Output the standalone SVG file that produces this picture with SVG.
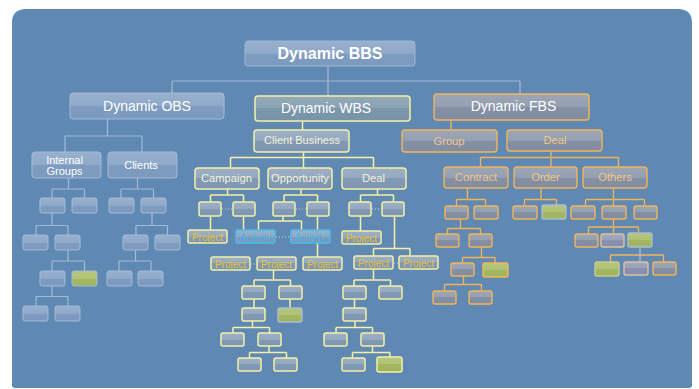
<svg xmlns="http://www.w3.org/2000/svg" width="699" height="389" viewBox="0 0 699 389">
<defs>
<linearGradient id="gObs" x1="0" y1="0" x2="0" y2="1">
<stop offset="0" stop-color="#98b0cd"/><stop offset="0.5" stop-color="#8fa9ca"/><stop offset="0.5" stop-color="#7f9cc0"/><stop offset="1" stop-color="#7c99be"/>
</linearGradient>
<linearGradient id="gWbsTop" x1="0" y1="0" x2="0" y2="1">
<stop offset="0" stop-color="#92a9b7"/><stop offset="0.5" stop-color="#8aa2b3"/><stop offset="0.5" stop-color="#7b97aa"/><stop offset="1" stop-color="#7893a8"/>
</linearGradient>
<linearGradient id="gWbs" x1="0" y1="0" x2="0" y2="1">
<stop offset="0" stop-color="#9cafc5"/><stop offset="0.5" stop-color="#94a9c1"/><stop offset="0.5" stop-color="#8299b4"/><stop offset="1" stop-color="#7e96b2"/>
</linearGradient>
<linearGradient id="gFbs" x1="0" y1="0" x2="0" y2="1">
<stop offset="0" stop-color="#9ca6b6"/><stop offset="0.5" stop-color="#949fb1"/><stop offset="0.5" stop-color="#8590a4"/><stop offset="1" stop-color="#818ca1"/>
</linearGradient>
<linearGradient id="gGreen" x1="0" y1="0" x2="0" y2="1">
<stop offset="0" stop-color="#b6c67c"/><stop offset="0.5" stop-color="#b0c274"/><stop offset="0.5" stop-color="#a3b762"/><stop offset="1" stop-color="#a0b45e"/>
</linearGradient>
<linearGradient id="gLav" x1="0" y1="0" x2="0" y2="1">
<stop offset="0" stop-color="#a4a8c0"/><stop offset="0.5" stop-color="#9a9fbb"/><stop offset="0.5" stop-color="#8a90b2"/><stop offset="1" stop-color="#878daf"/>
</linearGradient>
<filter id="blur" x="-20%" y="-30%" width="140%" height="160%"><feGaussianBlur stdDeviation="0.7"/></filter>
<style>
.obs{fill:url(#gObs);stroke:#a2bad8;stroke-width:1}
.wbs{fill:url(#gWbs);stroke:#f4f0a8;stroke-width:1.5}
.wbsTop{fill:url(#gWbsTop);stroke:#f4f0a8;stroke-width:1.5}
.act{fill:url(#gWbs);stroke:#46bff2;stroke-width:1.5}
.fbs{fill:url(#gFbs);stroke:#f2b45a;stroke-width:1.4}
.grn{fill:url(#gGreen)}
.lav{fill:url(#gLav);stroke:#dcc39c;stroke-width:1.4}
.bl{filter:url(#blur)}
.cObs{fill:none;stroke:#a2bad8;stroke-width:1.2}
.cWbs{fill:none;stroke:#f4f0a8;stroke-width:1.5}
.cFbs{fill:none;stroke:#f2b45a;stroke-width:1.3}
.dot{fill:none;stroke:#c8d4e0;stroke-width:1;stroke-dasharray:1 2}
text{font-family:"Liberation Sans",Arial,sans-serif;text-anchor:middle}
.tW{fill:#ffffff}
.tC{fill:#f6f3d6}
.tP{fill:#e9c232;font-size:10px}
.tA{fill:#44b6ec;font-size:10px}
.tO{fill:#f2c688}
</style>
</defs>
<path d="M26 9 H678 Q692 9 692 23 V385 Q692 388 689 388 H15 Q12 388 12 385 V23 Q12 9 26 9 Z" fill="#5f89b2"/>
<g id="connectors">
<path class="cObs" d="M328 66 V81 M172 81 H520 M172 81 V93 M328 81 V96 M520 81 V94"/>
<path class="cObs" d="M107.5 119 V136 M65 136 H142 M65 136 V152 M142 136 V152"/>
<path class="cObs" d="M68.5 178 V189 M52 189 H84.5 M52 189 V198 M84.5 189 V198"/>
<path class="cObs" d="M137.5 178 V189 M121 189 H153.5 M121 189 V198 M153.5 189 V198"/>
<path class="cObs" d="M52 213 V225.5 M36 225.5 H68 M36 225.5 V235 M68 225.5 V235"/>
<path class="cObs" d="M152 213 V225.5 M136 225.5 H167.5 M136 225.5 V235 M167.5 225.5 V235"/>
<path class="cObs" d="M68 250 V261 M52 261 H84.5 M52 261 V271 M84.5 261 V271"/>
<path class="cObs" d="M135.5 250 V261 M119 261 H151 M119 261 V271 M151 261 V271"/>
<path class="cObs" d="M52 286 V296.5 M36 296.5 H68 M36 296.5 V306 M68 296.5 V306"/>
<path class="cWbs" d="M302.5 121 V130"/>
<path class="cWbs" d="M303.5 152 V157.5 M230.5 157.5 H373.5 M230.5 157.5 V168 M303.5 157.5 V168 M373.5 157.5 V168"/>
<path class="cWbs" d="M227.5 189 V195 M210.5 195 H243.5 M210.5 195 V202 M243.5 195 V202"/>
<path class="cWbs" d="M301 189 V195 M284 195 H317.5 M284 195 V202 M317.5 195 V202"/>
<path class="cWbs" d="M377.5 189 V195 M360.5 195 H393.5 M360.5 195 V202 M393.5 195 V202"/>
<path class="cWbs" d="M210.5 216 V230 M243.5 216 V230"/>
<path class="cWbs" d="M283 216 V221 M258.5 221 H301.5 M258.5 221 V230 M301.5 221 V230"/>
<path class="cWbs" d="M317.5 216 V230 M317.5 243 V257"/>
<path class="cWbs" d="M360.5 216 V231"/>
<path class="cWbs" d="M394.5 216 V248.5 M373.5 248.5 H410 M373.5 248.5 V256 M410 248.5 V256"/>
<path class="cWbs" d="M273.5 270 V280 M254 280 H290.5 M254 280 V286 M290.5 280 V286"/>
<path class="cWbs" d="M254 299 V308 M290 299 V308"/>
<path class="cWbs" d="M252.5 321 V327.5 M233 327.5 H269.5 M233 327.5 V333 M269.5 327.5 V333"/>
<path class="cWbs" d="M269 346 V352.5 M249.5 352.5 H286.5 M249.5 352.5 V358 M286.5 352.5 V358"/>
<path class="cWbs" d="M373.5 269 V280 M354 280 H390.5 M354 280 V286 M390.5 280 V286"/>
<path class="cWbs" d="M354.5 299 V308"/>
<path class="cWbs" d="M355 321 V327.5 M336 327.5 H372.5 M336 327.5 V333 M372.5 327.5 V333"/>
<path class="cWbs" d="M372.5 346 V352.5 M352.5 352.5 H390 M352.5 352.5 V358 M390 352.5 V357"/>
<path class="dot" d="M222 209 H233 M296 209 H307 M372 209 H382 M276 237 H291 M251 264 H257 M394 263 H399"/>
<path class="cFbs" d="M451 120 V130"/>
<path class="cFbs" d="M551 151 V157.5 M480.5 157.5 H618.5 M480.5 157.5 V167 M551 157.5 V167 M618.5 157.5 V167"/>
<path class="cFbs" d="M467.5 188 V199.5 M456.5 199.5 H485.5 M456.5 199.5 V206 M485.5 199.5 V206"/>
<path class="cFbs" d="M541 188 V199.5 M524.5 199.5 H556.5 M524.5 199.5 V206 M556.5 199.5 V205"/>
<path class="cFbs" d="M613.5 188 V199.5 M585.5 199.5 H644.5 M585.5 199.5 V206 M613.5 199.5 V206 M644.5 199.5 V206"/>
<path class="cFbs" d="M460.5 219 V228.5 M447.5 228.5 H480.5 M447.5 228.5 V234 M480.5 228.5 V234"/>
<path class="cFbs" d="M481.5 247 V257.5 M462.5 257.5 H495 M462.5 257.5 V263 M495 257.5 V263"/>
<path class="cFbs" d="M463.5 276 V284.5 M444.5 284.5 H481.5 M444.5 284.5 V291 M481.5 284.5 V291"/>
<path class="cFbs" d="M613.5 219 V227 M588.5 227 H638.5 M588.5 227 V234 M613.5 227 V234 M638.5 227 V233"/>
<path class="cFbs" d="M610.5 255 H663.5 M610.5 255 V262 M663.5 255 V262"/>
<path fill="none" stroke="#b4c2d4" stroke-width="1.2" d="M640 247 V262"/>
</g>
<g id="bbs"><rect x="245" y="41" width="170" height="25" rx="3" fill="url(#gObs)" stroke="#9cb6d8"/><text x="330" y="59" class="tW" font-size="16" font-weight="bold">Dynamic BBS</text></g>
<g id="obs"><rect class="obs" x="70" y="93" width="154" height="26" rx="3"/><text x="147" y="111" class="tW" font-size="14">Dynamic OBS</text></g>
<g id="wbs"><rect class="wbsTop" x="255" y="96" width="155" height="25" rx="3"/><text x="326" y="113" class="tW" font-size="14">Dynamic WBS</text></g>
<g id="fbs"><rect class="fbs" x="434" y="94" width="155" height="26" rx="3"/><text x="513.5" y="111" class="tW" font-size="14">Dynamic FBS</text></g>
<g id="internal-groups"><rect class="obs" x="32" y="152" width="69" height="26" rx="3"/><text x="64.5" y="163.5" class="tW" font-size="11">Internal</text><text x="64.5" y="174.5" class="tW" font-size="11">Groups</text></g>
<g id="clients"><rect class="obs" x="108" y="152" width="69" height="26" rx="3"/><text x="141" y="169" class="tW" font-size="11">Clients</text></g>
<g id="obs-leaves">
<rect class="obs" x="40" y="198" width="25" height="15" rx="2"/>
<rect class="obs" x="72" y="198" width="25" height="15" rx="2"/>
<rect class="obs" x="109" y="198" width="25" height="15" rx="2"/>
<rect class="obs" x="141" y="198" width="25" height="15" rx="2"/>
<rect class="obs" x="23" y="235" width="25" height="15" rx="2"/>
<rect class="obs" x="55" y="235" width="25" height="15" rx="2"/>
<rect class="obs" x="123" y="235" width="25" height="15" rx="2"/>
<rect class="obs" x="155" y="235" width="25" height="15" rx="2"/>
<rect class="obs" x="40" y="271" width="25" height="15" rx="2"/>
<rect class="obs grn" x="72" y="271" width="25" height="15" rx="2"/>
<rect class="obs" x="107" y="271" width="25" height="15" rx="2"/>
<rect class="obs" x="138" y="271" width="25" height="15" rx="2"/>
<rect class="obs" x="23" y="306" width="25" height="15" rx="2"/>
<rect class="obs" x="55" y="306" width="25" height="15" rx="2"/>
</g>
<g id="client-business"><rect class="wbs" x="254" y="130" width="95" height="22" rx="3"/><text x="302" y="143.5" class="tC" font-size="11">Client Business</text></g>
<g id="campaign"><rect class="wbs" x="195" y="168" width="64" height="21" rx="3"/><text x="226.5" y="182" class="tC" font-size="11.2">Campaign</text></g>
<g id="opportunity"><rect class="wbs" x="268" y="168" width="64" height="21" rx="3"/><text x="300" y="182" class="tC" font-size="11.2">Opportunity</text></g>
<g id="deal-wbs"><rect class="wbs" x="342" y="168" width="64" height="21" rx="3"/><text x="373.5" y="182" class="tC" font-size="11.2">Deal</text></g>
<g id="wbs-l2">
<rect class="wbs" x="199" y="202" width="22" height="14" rx="2"/>
<rect class="wbs" x="233" y="202" width="22" height="14" rx="2"/>
<rect class="wbs" x="273" y="202" width="22" height="14" rx="2"/>
<rect class="wbs" x="307" y="202" width="22" height="14" rx="2"/>
<rect class="wbs" x="349" y="202" width="22" height="14" rx="2"/>
<rect class="wbs" x="382" y="202" width="22" height="14" rx="2"/>
</g>
<g id="project-1"><rect class="wbs" x="188" y="230" width="39" height="13" rx="2"/><text x="207.5" y="240.5" class="tP">Project</text></g>
<g id="activity-1"><rect class="act" x="236" y="230" width="39" height="13" rx="2"/><text x="255.5" y="240.5" class="tA">Activity</text></g>
<g id="activity-2"><rect class="act" x="291" y="230" width="39" height="13" rx="2"/><text x="310.5" y="240.5" class="tA">Activity</text></g>
<g id="project-2"><rect class="wbs" x="342" y="231" width="39" height="13" rx="2"/><text x="361.5" y="241.5" class="tP">Project</text></g>
<g id="project-3"><rect class="wbs" x="211" y="257" width="39" height="13" rx="2"/><text x="230.5" y="267.5" class="tP">Project</text></g>
<g id="project-4"><rect class="wbs" x="257" y="257" width="39" height="13" rx="2"/><text x="276.5" y="267.5" class="tP">Project</text></g>
<g id="project-5"><rect class="wbs" x="303" y="257" width="39" height="13" rx="2"/><text x="322.5" y="267.5" class="tP">Project</text></g>
<g id="project-6"><rect class="wbs" x="354" y="256" width="39" height="13" rx="2"/><text x="373.5" y="266.5" class="tP">Project</text></g>
<g id="project-7"><rect class="wbs" x="399" y="256" width="39" height="13" rx="2"/><text x="418.5" y="266.5" class="tP">Project</text></g>
<g id="wbs-leaves">
<rect class="wbs" x="242" y="286" width="23" height="13" rx="2"/>
<rect class="wbs" x="279" y="286" width="23" height="13" rx="2"/>
<rect class="wbs" x="242" y="308" width="23" height="13" rx="2"/>
<rect class="grn" x="278" y="308" width="24" height="14" rx="2" stroke="#a8bcd4" stroke-width="1.5"/>
<rect class="wbs" x="221" y="333" width="23" height="13" rx="2"/>
<rect class="wbs" x="258" y="333" width="23" height="13" rx="2"/>
<rect class="wbs" x="238" y="358" width="23" height="13" rx="2"/>
<rect class="wbs" x="274" y="358" width="23" height="13" rx="2"/>
<rect class="wbs" x="343" y="286" width="23" height="13" rx="2"/>
<rect class="wbs" x="379" y="286" width="23" height="13" rx="2"/>
<rect class="wbs" x="343" y="308" width="23" height="13" rx="2"/>
<rect class="wbs" x="324" y="333" width="23" height="13" rx="2"/>
<rect class="wbs" x="361" y="333" width="23" height="13" rx="2"/>
<rect class="wbs" x="342" y="358" width="23" height="13" rx="2"/>
<rect class="grn" x="377" y="357" width="25" height="15" rx="2" stroke="#f4f0a8" stroke-width="1.5"/>
</g>
<g id="group"><rect class="fbs" x="402" y="130" width="95" height="22" rx="3"/><text x="449" y="145" class="tO" font-size="11.2">Group</text></g>
<g id="deal-fbs"><rect class="fbs" x="507" y="130" width="95" height="21" rx="3"/><text x="555" y="144" class="tO" font-size="11.2">Deal</text></g>
<g id="contract"><rect class="fbs" x="444" y="167" width="64" height="21" rx="3"/><text x="476" y="181" class="tO" font-size="11.2">Contract</text></g>
<g id="order"><rect class="fbs" x="514" y="167" width="63" height="21" rx="3"/><text x="545.5" y="181" class="tO" font-size="11.2">Order</text></g>
<g id="others"><rect class="fbs" x="583" y="167" width="64" height="21" rx="3"/><text x="615" y="181" class="tO" font-size="11.2">Others</text></g>
<g id="fbs-leaves">
<rect class="fbs" x="445" y="206" width="23" height="13" rx="2"/>
<rect class="fbs" x="474" y="206" width="24" height="13" rx="2"/>
<rect class="fbs" x="513" y="206" width="24" height="13" rx="2"/>
<rect class="grn" x="542" y="205" width="24" height="14" rx="2" stroke="#a8bcd4" stroke-width="1.4"/>
<rect class="fbs" x="571" y="206" width="24" height="13" rx="2"/>
<rect class="fbs" x="602" y="206" width="24" height="13" rx="2"/>
<rect class="fbs" x="634" y="206" width="23" height="13" rx="2"/>
<rect class="fbs" x="436" y="234" width="23" height="13" rx="2"/>
<rect class="fbs" x="469" y="234" width="23" height="13" rx="2"/>
<rect class="fbs" x="451" y="263" width="23" height="13" rx="2"/>
<rect class="grn" x="483" y="263" width="25" height="14" rx="2" stroke="#f2b45a" stroke-width="1.4"/>
<rect class="fbs" x="433" y="291" width="23" height="13" rx="2"/>
<rect class="fbs" x="469" y="291" width="23" height="13" rx="2"/>
<rect class="fbs" x="575" y="234" width="23" height="13" rx="2"/>
<rect class="lav bl" x="601" y="234" width="23" height="13" rx="2"/>
<rect class="grn bl" x="628" y="233" width="24" height="14" rx="2" stroke="#a8bcd4" stroke-width="1.4"/>
<rect class="grn bl" x="595" y="262" width="24" height="14" rx="2" stroke="#c8c890" stroke-width="1.4"/>
<rect class="lav bl" x="624" y="262" width="24" height="13" rx="2"/>
<rect class="fbs" x="653" y="262" width="23" height="13" rx="2"/>
</g>
</svg>
